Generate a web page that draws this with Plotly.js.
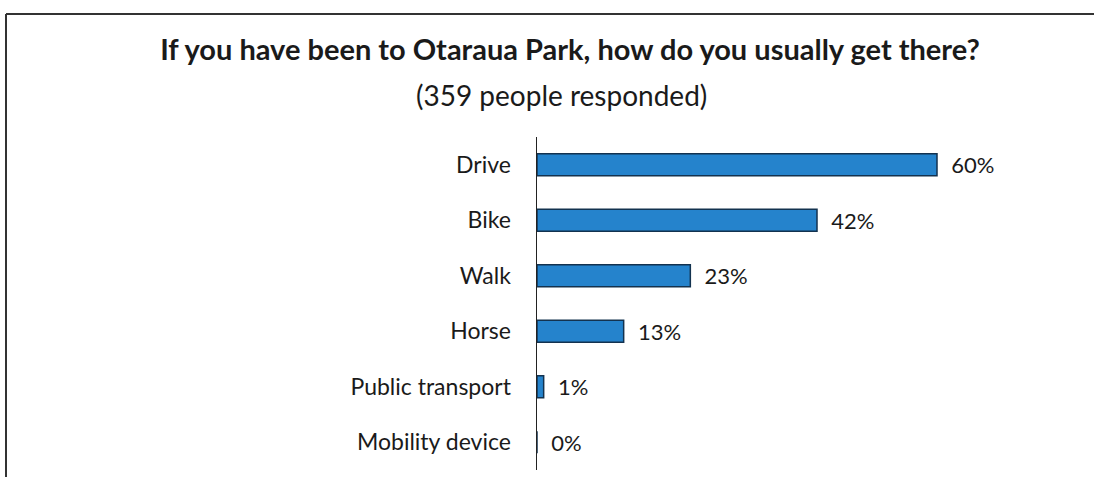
<!DOCTYPE html>
<html>
<head>
<meta charset="utf-8">
<script src="https://cdn.plot.ly/plotly-3.0.1.min.js"></script>
<style>
html,body{margin:0;padding:0;background:#fff;}
#chart{width:1094px;height:477px;}
</style>
</head>
<body>
<div id="chart"></div>
<script>
const categories = ["Drive", "Bike", "Walk", "Horse", "Public transport", "Mobility device"];
const percents = [60, 42, 23, 13, 1, 0];
const valueLabels = ["60%", "42%", "23%", "13%", "1%", "0%"];
const titleText = "If you have been to Otaraua Park, how do you usually get there?";
const subtitleText = "(359 people responded)";

const FONT = "Lato, 'Open Sans', sans-serif";

const trace = {
  type: "bar",
  orientation: "h",
  y: categories,
  x: percents,
  text: valueLabels.map(s => "  " + s),
  textposition: "outside",
  constraintext: "none",
  cliponaxis: false,
  textfont: {family: FONT, size: 22, color: "#1a1a1a"},
  marker: {
    color: "#2583cc",
    line: {color: "#13324f", width: 1.5}
  },
  hoverinfo: "skip"
};

const layout = {
  width: 1094,
  height: 477,
  margin: {l: 537, r: 57, t: 137, b: 7},
  paper_bgcolor: "#ffffff",
  plot_bgcolor: "#ffffff",
  showlegend: false,
  bargap: 0.6,
  font: {family: FONT, color: "#1a1a1a"},
  title: {
    text: "<b>" + titleText + "</b>",
    xref: "container", yref: "container",
    x: 570/1094, y: 1 - 50/477,
    xanchor: "center", yanchor: "middle",
    font: {family: FONT, size: 29, color: "#1a1a1a"}
  },
  annotations: [{
    text: subtitleText,
    xref: "paper", yref: "paper",
    x: (561 - 537)/500, y: 1 + (137 - 95)/333,
    xanchor: "center", yanchor: "middle",
    showarrow: false,
    font: {family: FONT, size: 28, color: "#1a1a1a"}
  }],
  xaxis: {
    range: [0, 75],
    showgrid: false,
    zeroline: false,
    showline: false,
    showticklabels: false,
    ticks: ""
  },
  yaxis: {
    autorange: "reversed",
    showgrid: false,
    zeroline: false,
    showline: true,
    linecolor: "#222222",
    linewidth: 1.5,
    ticks: "",
    ticklabelstandoff: 20,
    tickfont: {family: FONT, size: 23, color: "#1a1a1a"}
  },
  shapes: [
    {type: "line", xref: "paper", yref: "paper",
     x0: (6 - 537)/500, x1: (1094 - 537)/500,
     y0: 1 + (137 - 14)/333, y1: 1 + (137 - 14)/333,
     line: {color: "#333333", width: 2}},
    {type: "line", xref: "paper", yref: "paper",
     x0: (6 - 537)/500, x1: (6 - 537)/500,
     y0: 1 + (137 - 14)/333, y1: (470 - 477)/333,
     line: {color: "#333333", width: 2}}
  ]
};

Plotly.newPlot("chart", [trace], layout, {staticPlot: true, displayModeBar: false});
</script>
</body>
</html>
